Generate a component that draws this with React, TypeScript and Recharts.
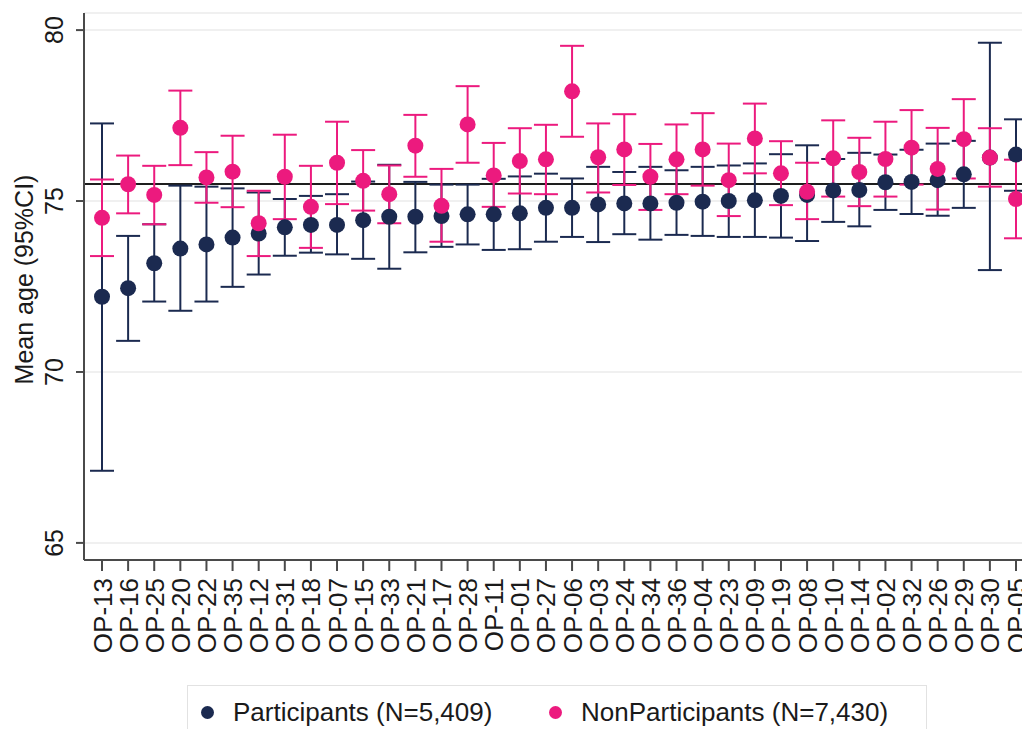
import { ComposedChart, Scatter, ErrorBar, XAxis, YAxis, CartesianGrid, ReferenceLine } from 'recharts';

const categories = [
    "OP-13", "OP-16", "OP-25", "OP-20", "OP-22", "OP-35", "OP-12", "OP-31", "OP-18", "OP-07", "OP-15", "OP-33",
    "OP-21", "OP-17", "OP-28", "OP-11", "OP-01", "OP-27", "OP-06", "OP-03", "OP-24", "OP-34", "OP-36", "OP-04",
    "OP-23", "OP-09", "OP-19", "OP-08", "OP-10", "OP-14", "OP-02", "OP-32", "OP-26", "OP-29", "OP-30", "OP-05",
];

const participantMean = [
    72.20, 72.45, 73.18, 73.61, 73.73, 73.93, 74.05, 74.23, 74.30, 74.30, 74.44, 74.54,
    74.54, 74.56, 74.61, 74.61, 74.64, 74.80, 74.80, 74.90, 74.93, 74.93, 74.95, 74.98,
    75.00, 75.02, 75.15, 75.18, 75.31, 75.32, 75.55, 75.56, 75.61, 75.78, 76.27, 76.36,
];
const participantLow = [
    67.11, 70.91, 72.06, 71.79, 72.06, 72.49, 72.85, 73.40, 73.49, 73.44, 73.31, 73.02,
    73.50, 73.66, 73.73, 73.57, 73.59, 73.81, 73.95, 73.80, 74.03, 73.87, 74.01, 73.98,
    73.95, 73.95, 73.93, 73.83, 74.39, 74.26, 74.74, 74.62, 74.57, 74.80, 72.98, 75.30,
];
const participantHigh = [
    77.27, 73.98, 74.32, 75.45, 75.42, 75.37, 75.25, 75.06, 75.15, 75.20, 75.57, 76.06,
    75.56, 75.48, 75.48, 75.65, 75.72, 75.80, 75.66, 76.00, 75.85, 76.00, 75.90, 76.00,
    76.04, 76.10, 76.37, 76.63, 76.23, 76.41, 76.36, 76.50, 76.68, 76.76, 79.63, 77.39,
];

const nonMean = [
    74.51, 75.49, 75.18, 77.14, 75.69, 75.86, 74.35, 75.71, 74.83, 76.12, 75.59, 75.20,
    76.62, 74.86, 77.24, 75.75, 76.17, 76.22, 78.21, 76.28, 76.51, 75.71, 76.22, 76.51,
    75.61, 76.83, 75.81, 75.27, 76.25, 75.85, 76.23, 76.56, 75.94, 76.81, 76.27, 75.06,
];
const nonLow = [
    73.39, 74.64, 74.32, 76.05, 74.95, 74.82, 73.39, 74.47, 73.63, 74.91, 74.72, 74.35,
    75.71, 73.81, 76.12, 74.83, 75.22, 75.20, 76.88, 75.25, 75.47, 74.74, 75.20, 75.45,
    74.56, 75.81, 74.88, 74.47, 75.13, 74.85, 75.13, 75.48, 74.75, 75.66, 75.42, 73.91,
];
const nonHigh = [
    75.63, 76.33, 76.03, 78.23, 76.43, 76.91, 75.30, 76.94, 76.03, 77.32, 76.49, 76.04,
    77.52, 75.94, 78.36, 76.70, 77.13, 77.23, 79.54, 77.27, 77.54, 76.67, 77.24, 77.57,
    76.68, 77.85, 76.75, 76.12, 77.36, 76.85, 77.32, 77.66, 77.14, 77.98, 77.13, 76.21,
];

const overallMean = 75.5;
const yTicks = [65, 70, 75, 80];

const NAVY = "#1b2a50";
const PINK = "#ec1a7e";
const FONT = '"Liberation Sans", Arial, sans-serif';

const series = [
    { key: "p", err: "pErr", name: "Participants (N=5,409)", color: NAVY },
    { key: "n", err: "nErr", name: "NonParticipants (N=7,430)", color: PINK },
];

const rows = categories.map((cat, i) => ({
    cat,
    p: participantMean[i],
    pErr: [participantMean[i] - participantLow[i], participantHigh[i] - participantMean[i]],
    n: nonMean[i],
    nErr: [nonMean[i] - nonLow[i], nonHigh[i] - nonMean[i]],
}));

function YTick({ x, y, payload }: any) {
    const bx = x - 11;
    return (
        <text x={bx} y={y} transform={`rotate(-90 ${bx} ${y})`} textAnchor="middle"
            fontSize={25} fontFamily={FONT} fill="#1a1a1a">
            {payload.value}
        </text>
    );
}

function XTick({ x, y, payload }: any) {
    const bx = x + 9.5;
    const by = y + 5;
    return (
        <text x={bx} y={by} transform={`rotate(-90 ${bx} ${by})`} textAnchor="end"
            fontSize={26} fontFamily={FONT} fill="#1a1a1a">
            {payload.value}
        </text>
    );
}

function YLabel({ viewBox }: any) {
    const cx = 33;
    const cy = viewBox.y + viewBox.height / 2 - 7;
    return (
        <text x={cx} y={cy} transform={`rotate(-90 ${cx} ${cy})`} textAnchor="middle"
            fontSize={25} fontFamily={FONT} fill="#1a1a1a">
            Mean age (95%CI)
        </text>
    );
}

export default function App() {
    return (
        <div style={{ position: "absolute", left: 0, top: 0, width: 1022, height: 729, overflow: "hidden", background: "#fff" }}>
            <ComposedChart width={1034} height={729} data={rows} margin={{ top: 13, right: 0, bottom: 0, left: 0 }}>
                <CartesianGrid horizontal vertical={false} stroke="#ebebeb" strokeWidth={1.5} />
                <XAxis
                    dataKey="cat"
                    type="category"
                    interval={0}
                    height={169}
                    padding={{ left: 18, right: 18 }}
                    tickSize={11}
                    tick={<XTick />}
                    stroke="#4a4a4a"
                    strokeWidth={2}
                />
                <YAxis
                    type="number"
                    domain={[64.5, 80.5]}
                    ticks={yTicks}
                    allowDataOverflow
                    width={84}
                    tickSize={8}
                    tick={<YTick />}
                    stroke="#4a4a4a"
                    strokeWidth={2}
                    label={<YLabel />}
                />
                <ReferenceLine y={overallMean} stroke="#1e1e1e" strokeWidth={2} />
                {series.map((s) => (
                    <Scatter
                        key={s.key}
                        dataKey={s.key}
                        name={s.name}
                        fill={s.color}
                        isAnimationActive={false}
                        shape={(props: any) => <circle cx={props.cx} cy={props.cy} r={8} fill={s.color} />}
                    >
                        <ErrorBar dataKey={s.err} direction="y" width={12} stroke={s.color} strokeWidth={2} />
                    </Scatter>
                ))}
            </ComposedChart>
            <div style={{
                position: "absolute", left: 187, top: 685, width: 740, height: 60,
                border: "1px solid #e2e2e2", boxSizing: "border-box",
                fontFamily: FONT, fontSize: 26, color: "#1a1a1a",
            }}>
                {series.map((s, i) => (
                    <div key={s.key} style={{ position: "absolute", left: i === 0 ? 13 : 361, top: 11, display: "flex", alignItems: "center", whiteSpace: "nowrap" }}>
                        <span style={{ display: "inline-block", width: 13, height: 13, borderRadius: "50%", background: s.color, marginRight: 19 }} />
                        <span>{s.name}</span>
                    </div>
                ))}
            </div>
        </div>
    );
}
